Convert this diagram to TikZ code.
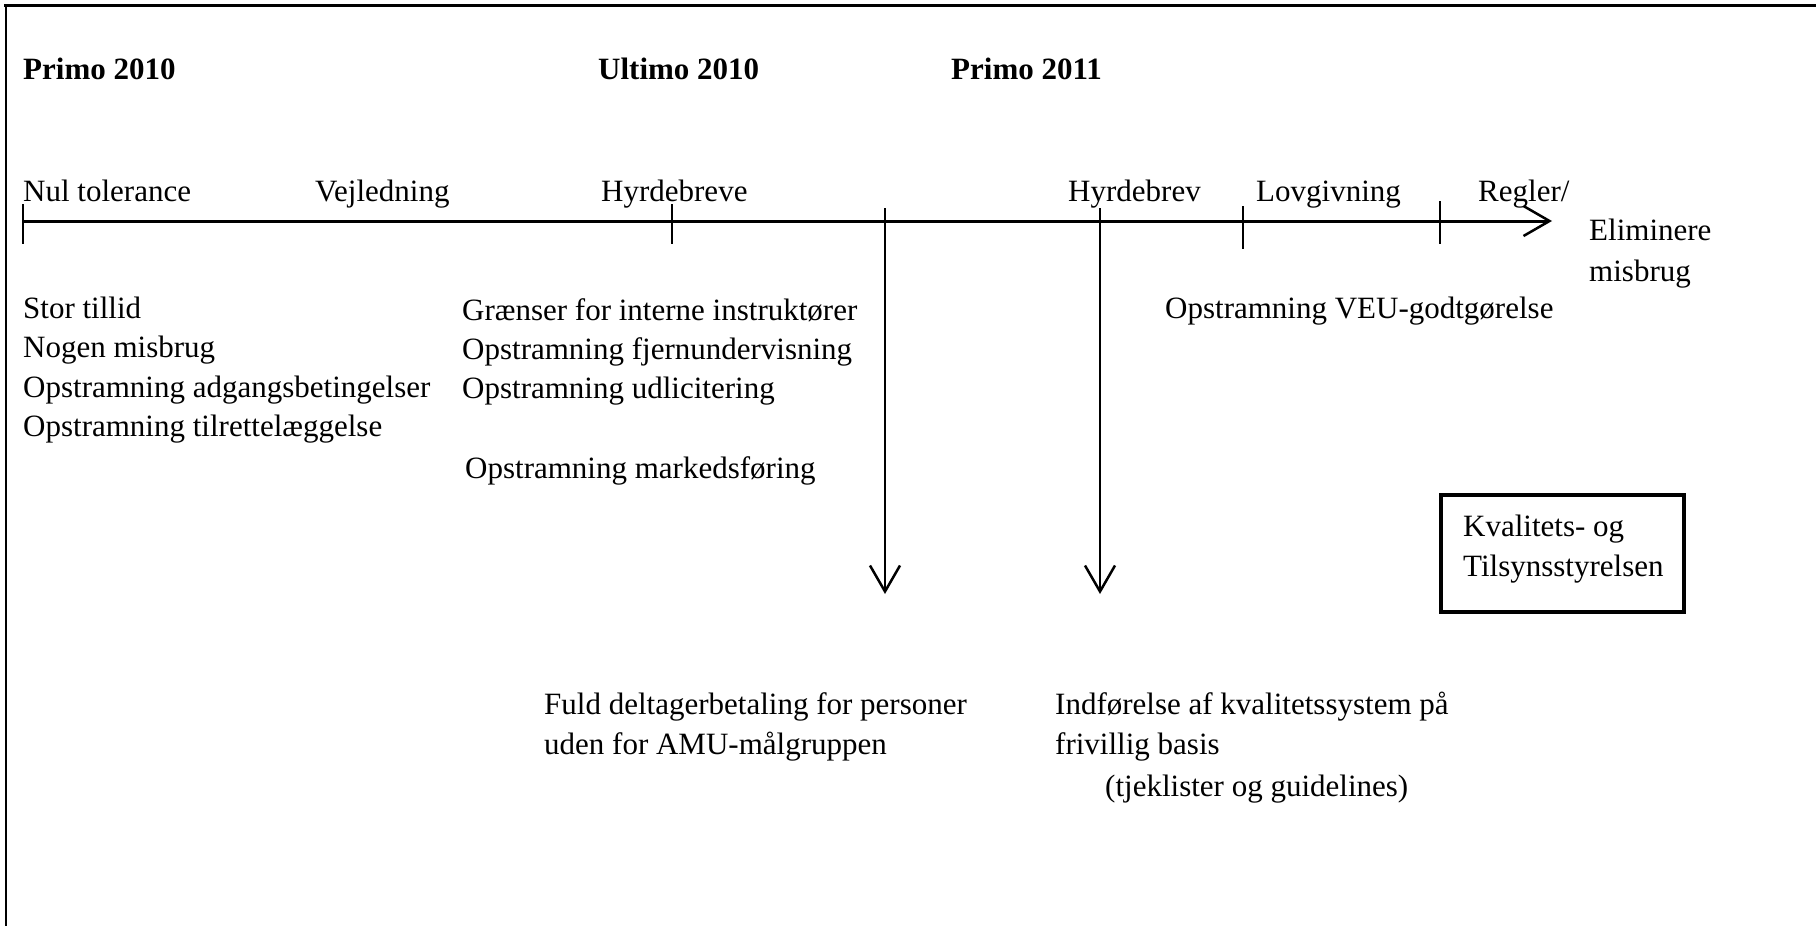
\documentclass[tikz,border=0pt]{standalone}
\usepackage{fontspec}
\setmainfont{Liberation Serif}
\usetikzlibrary{arrows.meta}
\begin{document}
\begin{tikzpicture}[x=1pt,y=-1pt,
  lbl/.style={anchor=base west,inner sep=0pt,font=\fontsize{31}{39}\selectfont},
  hd/.style={anchor=base west,inner sep=0pt,font=\fontsize{31}{39}\selectfont\bfseries},
  frameline/.style={line width=3pt},
  sideline/.style={line width=2pt},
  axis/.style={line width=3pt,-{Straight Barb[length=26pt,width=30pt,line width=2.5pt]}},
  tickmark/.style={line width=2pt},
  downarrow/.style={line width=2.5pt,-{Straight Barb[length=26pt,width=30pt,line width=2.5pt]}},
  boxnode/.style={draw,line width=4pt,minimum width=243pt,minimum height=117pt,inner sep=0pt}]
\useasboundingbox (0,0) rectangle (1816,926);
% frame
\draw[frameline] (4,5) -- (1816,5);
\draw[sideline] (6,5) -- (6,926);
% headers
\node[hd] (p2010) at (23,79) {Primo 2010};
\node[hd] (u2010) at (598,79) {Ultimo 2010};
\node[hd] (p2011) at (951,79) {Primo 2011};
% phase labels
\node[lbl] (nul) at (23,201) {Nul tolerance};
\node[lbl] (vej) at (315,201) {Vejledning};
\node[lbl] (hyr1) at (601,201) {Hyrdebreve};
\node[lbl] (hyr2) at (1068,201) {Hyrdebrev};
\node[lbl] (lov) at (1256,201) {Lovgivning};
\node[lbl] (reg) at (1478,201) {Regler/};
\node[lbl] (elim1) at (1589,240) {Eliminere};
\node[lbl] (elim2) at (1589,281) {misbrug};
% timeline
\coordinate (t0) at (23,221);
\coordinate (tend) at (1552,221);
\draw[axis] (t0) -- (tend);
\draw[tickmark] (23,204) -- (23,244);
\draw[tickmark] (672,204) -- (672,244);
\draw[tickmark] (1243,206) -- (1243,249);
\draw[tickmark] (1440,201) -- (1440,244);
% down arrows
\coordinate (a1) at (885,208);
\coordinate (a1e) at (885,594);
\coordinate (a2) at (1100,208);
\coordinate (a2e) at (1100,594);
\draw[downarrow] (a1) -- (a1e);
\draw[downarrow] (a2) -- (a2e);
% left column
\node[lbl] (c1a) at (23,318) {Stor tillid};
\node[lbl] (c1b) at (23,357) {Nogen misbrug};
\node[lbl] (c1c) at (23,397) {Opstramning adgangsbetingelser};
\node[lbl] (c1d) at (23,436) {Opstramning tilrettelæggelse};
% middle column
\node[lbl] (c2a) at (462,320) {Grænser for interne instruktører};
\node[lbl] (c2b) at (462,359) {Opstramning fjernundervisning};
\node[lbl] (c2c) at (462,398) {Opstramning udlicitering};
\node[lbl] (c2d) at (465,478) {Opstramning markedsføring};
% right
\node[lbl] (veu) at (1165,318) {Opstramning VEU-godtgørelse};
% box
\node[boxnode] (kts) at (1562.5,553.5) {};
\node[lbl] (kts1) at (1463,536) {Kvalitets- og};
\node[lbl] (kts2) at (1463,576) {Tilsynsstyrelsen};
% bottom texts
\node[lbl] (f1) at (544,714) {Fuld deltagerbetaling for personer};
\node[lbl] (f2) at (544,754) {uden for AMU-målgruppen};
\node[lbl] (i1) at (1055,714) {Indførelse af kvalitetssystem på};
\node[lbl] (i2) at (1055,754) {frivillig basis};
\node[lbl] (i3) at (1105,796) {(tjeklister og guidelines)};
\end{tikzpicture}
\end{document}
